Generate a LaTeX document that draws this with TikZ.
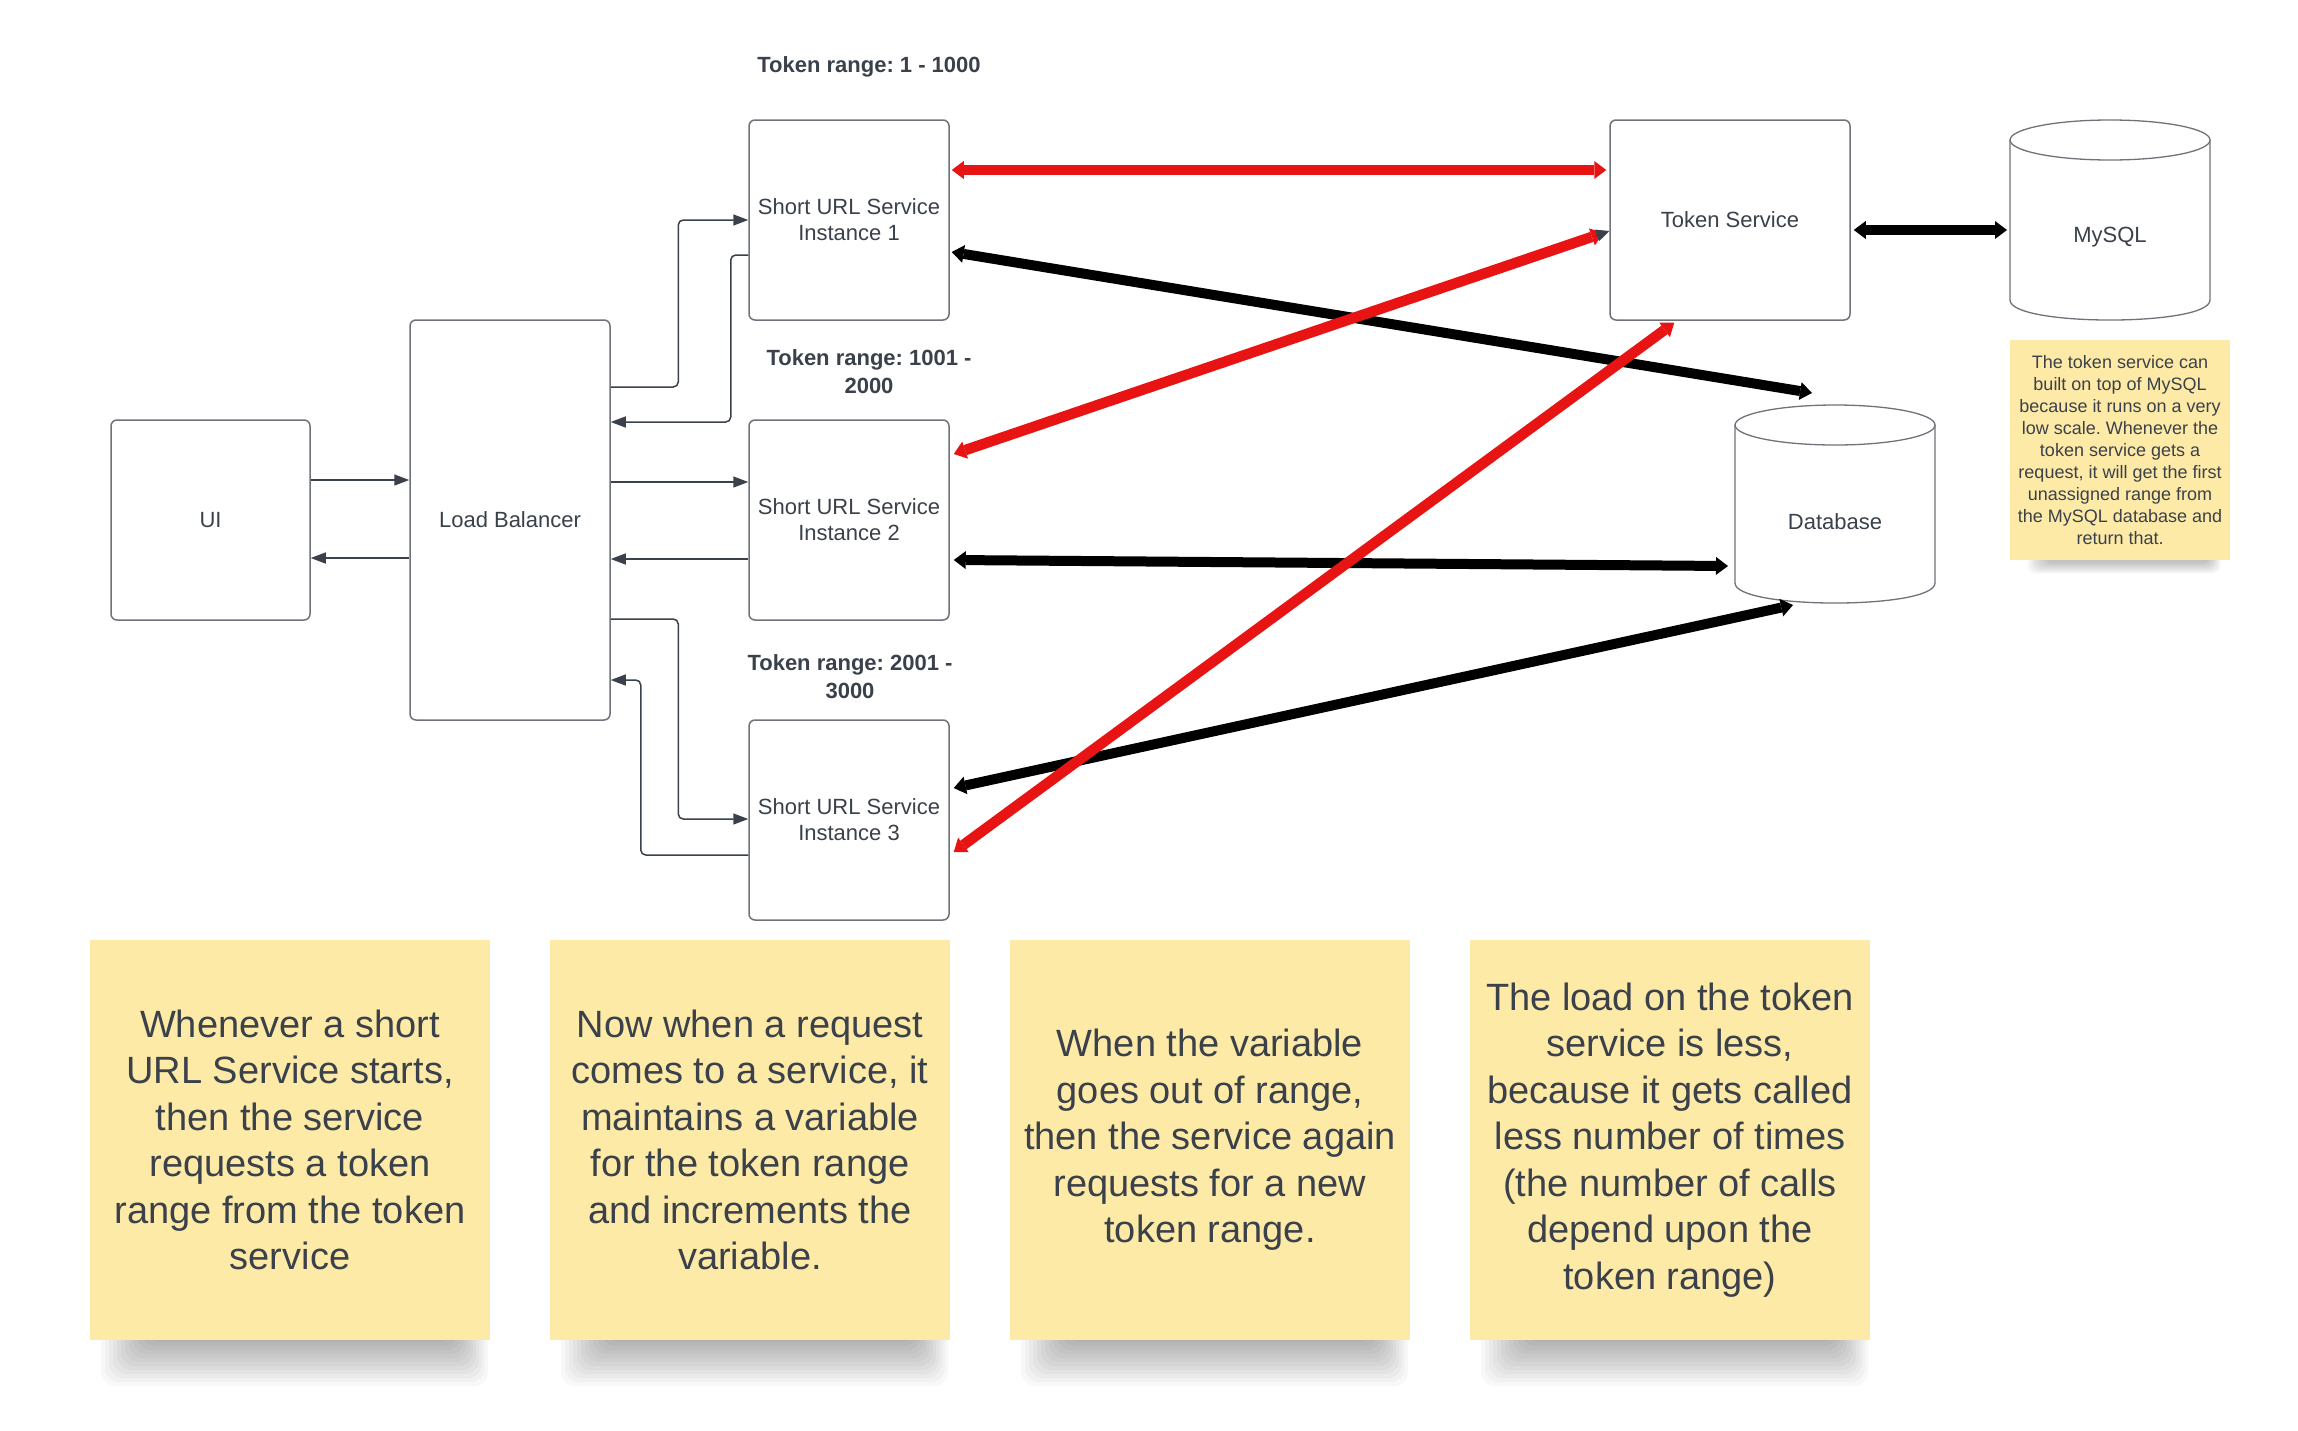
\documentclass[tikz,border=0pt]{standalone}
\usepackage{fontspec}
\setmainfont{Liberation Sans}
\usetikzlibrary{arrows.meta,calc}
\definecolor{ink}{HTML}{3A414A}
\definecolor{edgegray}{HTML}{6E737A}
\definecolor{sticky}{HTML}{FEEAA7}
\definecolor{redline}{HTML}{E81414}
\frenchspacing
\begin{document}
\begin{tikzpicture}[x=1pt,y=-1pt,
  box/.style={draw=edgegray, line width=1.5pt, rounded corners=6pt, fill=white,
    minimum width=200pt, minimum height=200pt, inner sep=0pt, text=ink, align=center,
    font=\fontsize{22}{26}\selectfont},
  cyllabel/.style={text=ink, font=\fontsize{22}{26}\selectfont, inner sep=0pt},
  cylline/.style={draw=edgegray, line width=1.3pt},
  rangelbl/.style={text=ink, align=center, font=\bfseries\fontsize{22}{28}\selectfont, inner sep=0pt},
  conn/.style={draw=ink, line width=1.5pt, rounded corners=5pt, -{Triangle[length=15pt,width=11pt]}},
  blk/.style={draw=black, line width=10pt,
    {Triangle[length=12pt,width=18pt,line width=0pt]}-{Triangle[length=12pt,width=18pt,line width=0pt]}},
  rd/.style={draw=redline, line width=10.5pt,
    {Triangle[length=12pt,width=18pt,line width=0pt]}-{Triangle[length=12pt,width=18pt,line width=0pt]}},
  note/.style={fill=sticky, minimum width=400pt, minimum height=400pt, inner sep=0pt,
    text=ink, align=center, font=\fontsize{38}{46.5}\selectfont},
  smallnote/.style={fill=sticky, minimum width=220pt, minimum height=220pt, inner sep=0pt,
    text=ink, align=center, font=\fontsize{18}{21.9}\selectfont}
]
\useasboundingbox[fill=white] (0,0) rectangle (2298,1430);

% cylinders
\draw[cylline, fill=white] (2010,140) -- (2010,300) .. controls (2010,326.7) and (2210,326.7) .. (2210,300) -- (2210,140);
\draw[cylline, fill=white] (2110,140) ellipse [x radius=100pt, y radius=20pt];
\draw[cylline, fill=white] (1735,425) -- (1735,583) .. controls (1735,609.7) and (1935,609.7) .. (1935,583) -- (1935,425);
\draw[cylline, fill=white] (1835,425) ellipse [x radius=100pt, y radius=20pt];
\node[cyllabel] (mysql) at (2110,237) {MySQL};
\node[cyllabel] (db) at (1835,522) {Database};

% boxes
\node[box, minimum width=199pt] (ui) at (210.5,520) {UI};
\node[box, minimum height=400pt] (lb) at (510,520) {Load Balancer};
\node[box] (inst1) at (849,220) {Short URL Service\\Instance 1};
\node[box] (inst2) at (849,520) {Short URL Service\\Instance 2};
\node[box] (inst3) at (849,820) {Short URL Service\\Instance 3};
\node[box, minimum width=240pt] (token) at (1730,220) {Token Service};

% labels
\node[rangelbl] (r1) at (869,67) {Token range: 1 - 1000};
\node[rangelbl] (r2) at (869,372) {Token range: 1001 -\\2000};
\node[rangelbl] (r3) at (850,677) {Token range: 2001 -\\3000};

% thin connectors
\draw[conn] ($(ui.east)+(0,-40)$) -- ($(lb.west)+(0,-40)$);
\draw[conn] ($(lb.west)+(0,38)$) -- ($(ui.east)+(0,38)$);
\draw[conn] ($(lb.east)+(0,-38)$) -- ($(inst2.west)+(0,-38)$);
\draw[conn] ($(inst2.west)+(0,39)$) -- ($(lb.east)+(0,39)$);
\draw[conn] ($(lb.east)+(0,-133)$) -| ($(inst1.west)+(-70,0)$) -- (inst1.west);
\draw[conn] ($(inst1.west)+(0,35)$) -| ($(lb.east)+(120,-98)$) -- ($(lb.east)+(0,-98)$);
\draw[conn] ($(lb.east)+(0,99)$) -| ($(inst3.west)+(-70,-1)$) -- ($(inst3.west)+(0,-1)$);
\draw[conn] ($(inst3.west)+(0,35)$) -| ($(lb.east)+(30,160)$) -- ($(lb.east)+(0,160)$);

% thick black connectors
\draw[blk] ($(inst1.east)+(2,32)$) -- ($(db.center)+(-23,-129)$);
\draw[blk] ($(inst2.east)+(4,40)$) -- ($(db.center)+(-107,44)$);
\draw[blk] ($(inst3.east)+(4,-32)$) -- ($(db.center)+(-42,83)$);
\draw[blk] ($(token.east)+(3,10)$) -- ($(mysql.center)+(-103,-7)$);

% thick red connectors
\draw[rd] ($(inst1.east)+(2,-50)$) -- ($(token.west)+(-3,-50)$);
\draw[rd] ($(inst2.east)+(4,-66)$) -- ($(token.west)+(-6,13)$);
\draw[ink, line width=1pt, -{Triangle[length=13pt,width=12pt]}] ($(token.west)+(-14,16)$) -- ($(token.west)+(0,11)$);
\draw[rd] ($(inst3.east)+(4,32)$) -- ($(token.south west)+(65,2)$);

% shadows of sticky notes
\foreach \xl/\xr in {90/490,550/950,1010/1410,1470/1870}{
  \foreach \i in {0,...,11}{
    \fill[black, opacity=0.026, rounded corners=14pt] (\xl+55-4*\i,1320) rectangle (\xr-35+3*\i,1342+4*\i);
  }
}
\foreach \i in {0,...,7}{
  \fill[black, opacity=0.03, rounded corners=8pt] (2045-2.5*\i,545) rectangle (2210+1.5*\i,563+1.5*\i);
}

% sticky notes
\node[note] (n1) at (290,1140) {Whenever a short\\URL Service starts,\\then the service\\requests a token\\range from the token\\service};
\node[note] (n2) at (750,1140) {Now when a request\\comes to a service, it\\maintains a variable\\for the token range\\and increments the\\variable.};
\node[note] (n3) at (1210,1140) {When the variable\\goes out of range,\\then the service again\\requests for a new\\token range.};
\node[note] (n4) at (1670,1140) {The load on the token\\service is less,\\because it gets called\\less number of times\\(the number of calls\\depend upon the\\token range)};
\node[smallnote] (n5) at (2120,450) {The token service can\\built on top of MySQL\\because it runs on a very\\low scale. Whenever the\\token service gets a\\request, it will get the first\\unassigned range from\\the MySQL database and\\return that.};
\end{tikzpicture}
\end{document}
